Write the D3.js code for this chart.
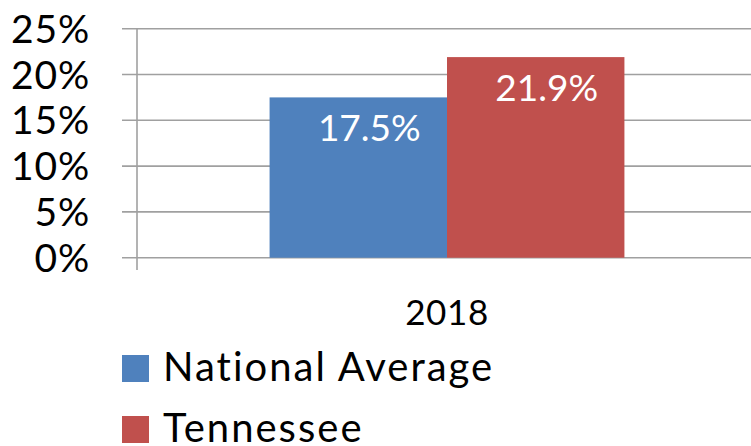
<!DOCTYPE html>
<html><head><meta charset="utf-8">
<script src="https://cdn.jsdelivr.net/npm/d3@7"></script>
<style>body{margin:0;background:#fff}svg{display:block}text{font-family:Lato,"Open Sans",sans-serif}</style>
</head><body><svg id="c" width="751" height="446"></svg>
<script>
const categories = ["2018"];
const seriesNames = ["National Average", "Tennessee"];
const nationalAverage = [17.5];
const tennessee = [21.9];
const yTicks = [0, 5, 10, 15, 20, 25];
const colors = ["#4F81BD", "#C0504D"];

(function () {
const svg = d3.select("#c");
const W = 751;
const pLeft = 137, pRight = 757, pTop = 28.7, pBottom = 257.7;
const y = d3.scaleLinear().domain([0, 25]).range([pBottom, pTop]);
const x0 = d3.scaleBand().domain(categories).range([pLeft, pRight]).paddingInner(0.272).paddingOuter(0.272);
const x1 = d3.scaleBand().domain(seriesNames).range([0, x0.bandwidth()]);

const data = categories.map((c, i) => ({cat: c, vals: [nationalAverage[i], tennessee[i]]}));

svg.append("g").selectAll("line").data(yTicks).join("line")
  .attr("x1", 122).attr("x2", W).attr("y1", d => y(d)).attr("y2", d => y(d))
  .attr("stroke", "#a0a0a0").attr("stroke-width", 1.6);

svg.append("g").selectAll("text").data(yTicks).join("text")
  .attr("x", 90).attr("y", d => y(d)).attr("dy", "0.36em")
  .attr("text-anchor", "end").attr("font-size", 39).attr("letter-spacing", 0.8).attr("fill", "#000")
  .text(d => d + "%");

const g = svg.append("g");
data.forEach(d => {
  d.vals.forEach((v, j) => {
    const bx = x0(d.cat) + x1(seriesNames[j]);
    g.append("rect").attr("x", bx).attr("y", y(v)).attr("width", x1.bandwidth()).attr("height", y(0) - y(v))
      .attr("fill", colors[j]);
    g.append("text").attr("x", bx + x1.bandwidth() / 2 + 11).attr("y", y(v) + 44)
      .attr("text-anchor", "middle").attr("font-size", 37).attr("fill", "#fff")
      .text(v.toFixed(1) + "%");
  });
});

svg.append("line").attr("x1", pLeft).attr("x2", pLeft).attr("y1", pTop).attr("y2", 270)
  .attr("stroke", "#a0a0a0").attr("stroke-width", 1.6);

svg.append("g").selectAll("text").data(categories).join("text")
  .attr("x", d => x0(d) + x0.bandwidth() / 2).attr("y", 325)
  .attr("text-anchor", "middle").attr("font-size", 35).attr("letter-spacing", 0.6).attr("fill", "#000").text(d => d);

const lg = svg.append("g");
seriesNames.forEach((s, i) => {
  const ly = 355 + i * 61;
  lg.append("rect").attr("x", 122).attr("y", ly).attr("width", 27).attr("height", 27).attr("fill", colors[i]);
  lg.append("text").attr("x", 163).attr("y", ly + 26).attr("font-size", 40).attr("letter-spacing", 2)
    .attr("fill", "#000").text(s);
});
})();
</script></body></html>
